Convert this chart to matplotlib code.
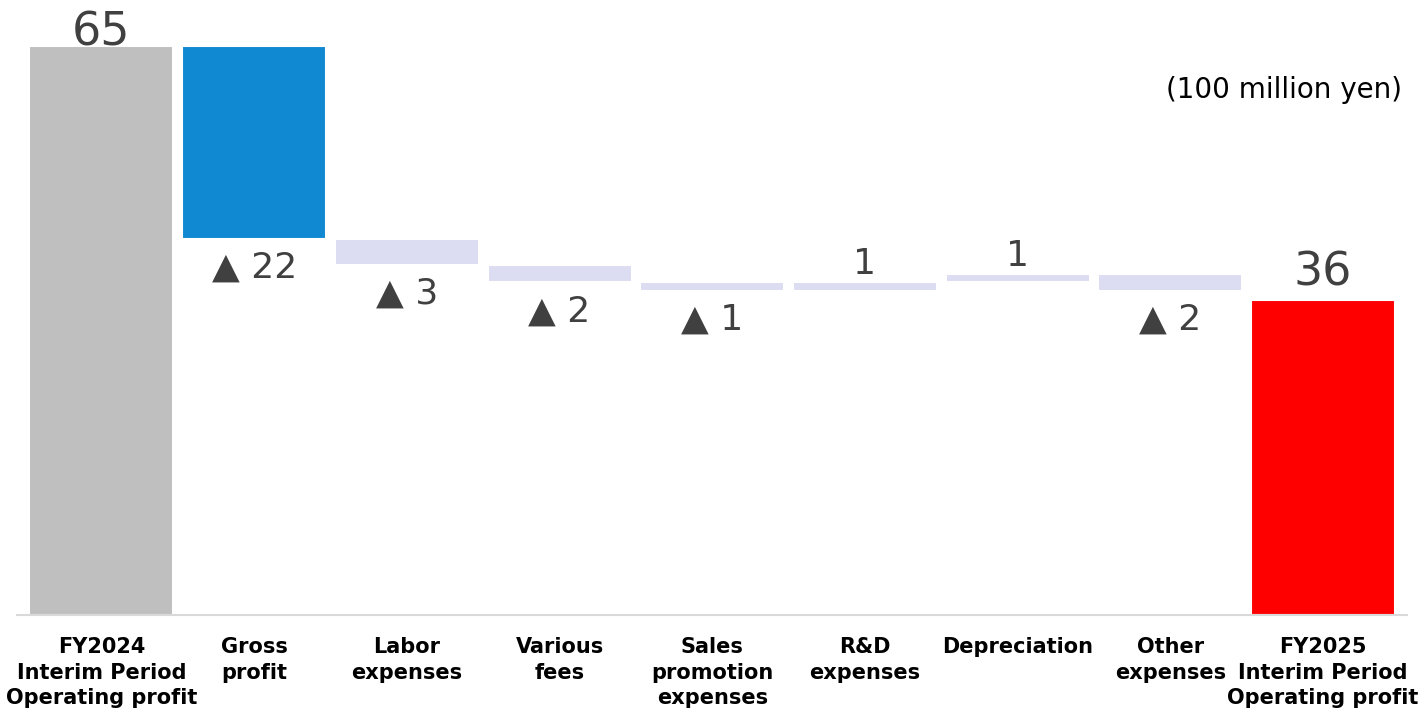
import matplotlib
matplotlib.use('Agg')
import matplotlib.pyplot as plt
import numpy as np

# operating profit bridge, 100 million yen
categories = ['FY2024\nInterim Period\nOperating profit', 'Gross\nprofit',
              'Labor\nexpenses', 'Various\nfees', 'Sales\npromotion\nexpenses',
              'R&D\nexpenses', 'Depreciation', 'Other\nexpenses',
              'FY2025\nInterim Period\nOperating profit']
start_value = 65
changes = [-22, -3, -2, -1, 1, 1, -2]
end_value = 36

GRAY = '#bfbfbf'
BLUE = '#1188d2'
LAV = '#dcdcf2'
RED = '#ff0000'
TXT = '#404040'

fig = plt.figure(figsize=(14.23, 7.08), dpi=100)
ax = fig.add_axes([17/1423, 93/708, 1390/1423, 612.8/708])

x = np.arange(len(categories))
w = 0.943

# totals
ax.bar(x[0], start_value, width=w, color=GRAY, edgecolor='white', linewidth=1.5)
ax.bar(x[-1], end_value, width=w, color=RED, edgecolor='white', linewidth=1.5)
ax.text(x[0], start_value + 0.1, str(start_value), ha='center', va='baseline',
        fontsize=33, color=TXT)
ax.text(x[-1], end_value + 1.6, str(end_value), ha='center', va='baseline',
        fontsize=33, color=TXT)

# floating steps
level = start_value
for i, d in enumerate(changes):
    xi = x[i + 1]
    bottom = level + d if d < 0 else level
    color = BLUE if i == 0 else LAV
    ax.bar(xi, abs(d), bottom=bottom, width=w, color=color,
           edgecolor='white', linewidth=1.5)
    if d < 0:
        ax.text(xi, bottom - 1.35, '\u25b2 %d' % abs(d), ha='center', va='top',
                fontsize=26, color=TXT)
    else:
        ax.text(xi, bottom + abs(d) + 0.9, '%d' % d, ha='center', va='baseline',
                fontsize=26, color=TXT)
    level += d

ax.set_xlim(-0.553, 8.55)
ax.set_ylim(0, 70)
for s in ['top', 'right', 'left']:
    ax.spines[s].set_visible(False)
ax.spines['bottom'].set_color('#d9d9d9')
ax.spines['bottom'].set_linewidth(1.5)
ax.set_yticks([])
ax.set_xticks(x)
ax.set_xticklabels(categories, fontsize=15, fontweight='bold',
                   family=['DejaVu Sans Condensed', 'Liberation Sans Narrow', 'DejaVu Sans'],
                   linespacing=1.35, va='top')
ax.tick_params(axis='x', length=0, pad=16)

fig.text(1402/1423, 1 - 90/708, '(100 million yen)', ha='right', va='center',
         fontsize=20, color='black')

fig.savefig('out.png', dpi=100)
